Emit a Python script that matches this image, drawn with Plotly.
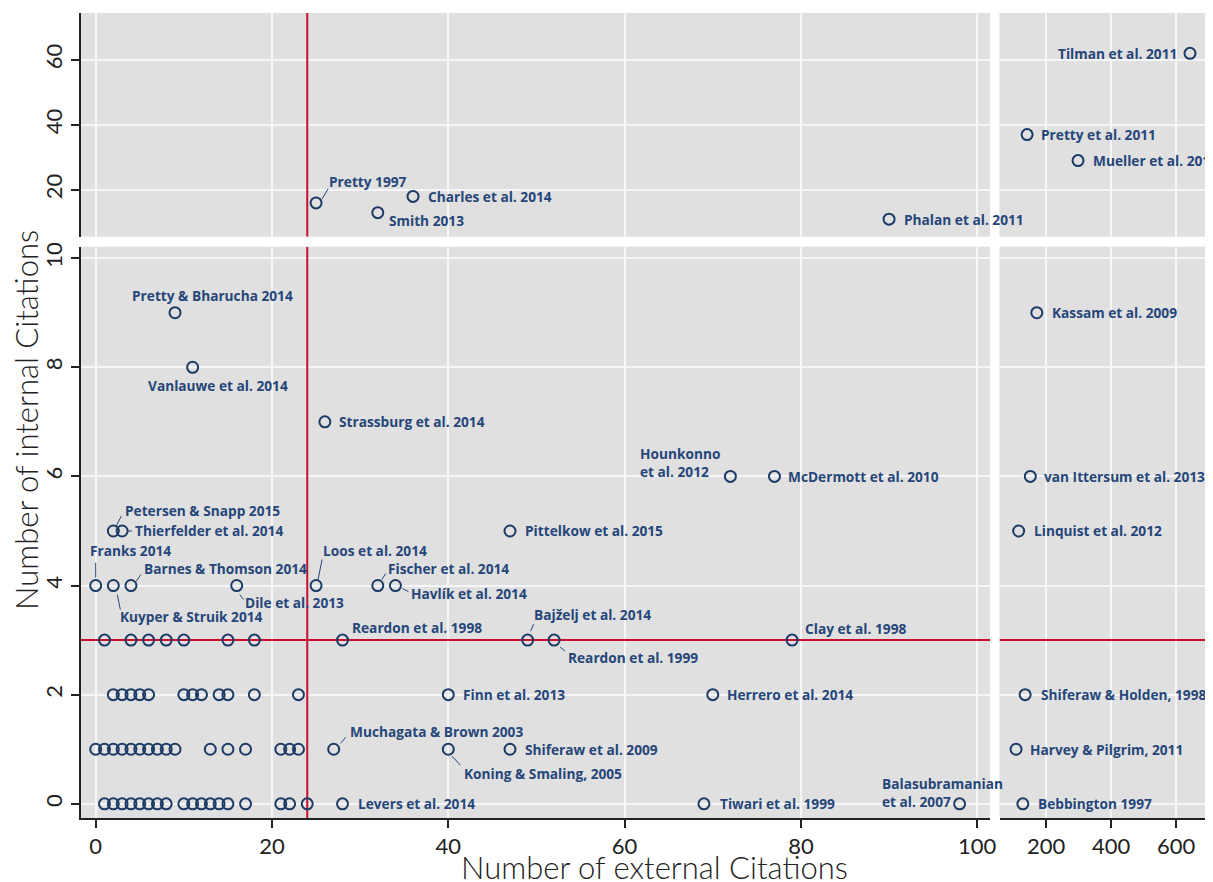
import plotly.graph_objects as go

# ---------------- data ----------------
# unlabeled studies (lower-left panel), external citations grouped by internal citations
row0_ext = [1, 2, 3, 4, 5, 6, 7, 8, 10, 11, 12, 13, 14, 15, 17, 21, 22, 24]
row1_ext = [0, 1, 2, 3, 4, 5, 6, 7, 8, 9, 13, 15, 17, 21, 22, 23]
row2_ext = [2, 3, 4, 5, 6, 10, 11, 12, 14, 15, 18, 23]
row3_ext = [1, 4, 6, 8, 10, 15, 18]

# labeled studies
studies = [
    "Pretty & Bharucha 2014", "Vanlauwe et al. 2014", "Strassburg et al. 2014",
    "Hounkonno<br>et al. 2012", "McDermott et al. 2010", "Petersen & Snapp 2015",
    "Thierfelder et al. 2014", "Pittelkow et al. 2015", "Franks 2014",
    "Kuyper & Struik 2014", "Barnes & Thomson 2014", "Dile et al. 2013",
    "Loos et al. 2014", "Fischer et al. 2014", "Havlík et al. 2014",
    "Reardon et al. 1998", "Bajželj et al. 2014", "Reardon et al. 1999",
    "Clay et al. 1998", "Finn et al. 2013", "Herrero et al. 2014",
    "Muchagata & Brown 2003", "Koning & Smaling, 2005", "Shiferaw et al. 2009",
    "Levers et al. 2014", "Tiwari et al. 1999", "Balasubramanian<br>et al. 2007",
    "Kassam et al. 2009", "van Ittersum et al. 2013", "Linquist et al. 2012",
    "Shiferaw & Holden, 1998", "Harvey & Pilgrim, 2011", "Bebbington 1997",
    "Pretty 1997", "Smith 2013", "Charles et al. 2014", "Phalan et al. 2011",
    "Tilman et al. 2011", "Pretty et al. 2011", "Mueller et al. 2012",
]
external = [
    9, 11, 26, 72, 77, 2, 3, 47, 0, 2, 4, 16, 25, 32, 34, 28, 49, 52, 79, 40, 70,
    27, 40, 47, 28, 69, 98, 171, 151, 115, 135, 107, 128, 25, 32, 36, 90, 643, 141, 298,
]
internal = [
    9, 8, 7, 6, 6, 5, 5, 5, 4, 4, 4, 4, 4, 4, 4, 3, 3, 3, 3, 2, 2,
    1, 1, 1, 0, 0, 0, 9, 6, 5, 2, 1, 0, 16, 13, 18, 11, 62, 37, 29,
]

x_break = 100          # axis break on external citations
y_break = 10           # axis break on internal citations
ref_external = 24      # red reference lines
ref_internal = 3

left_ticks = [0, 20, 40, 60, 80, 100]
right_ticks = [200, 400, 600]
bottom_ticks = [0, 2, 4, 6, 8, 10]
top_ticks = [20, 40, 60]

# ---------------- label placement (pixel offsets, style only) ----------------
# name: (xshift, yshift, xanchor, leader line (x0, y0, x1, y1) or None)
place = {
    "Pretty & Bharucha 2014": (37, 17, "center", None),
    "Vanlauwe et al. 2014": (25, -18, "center", None),
    "Strassburg et al. 2014": (12, 0, "left", None),
    "Hounkonno<br>et al. 2012": (-8, 14, "right", None),
    "McDermott et al. 2010": (12, 0, "left", None),
    "Petersen & Snapp 2015": (10, 20, "left", (3, 5, 8, 15)),
    "Thierfelder et al. 2014": (11, 0, "left", (6, 0, 10, 0)),
    "Pittelkow et al. 2015": (13, 0, "left", None),
    "Franks 2014": (-8, 35, "left", (0, 8, 0, 23)),
    "Kuyper & Struik 2014": (5, -31, "left", (4, -9, 7, -24)),
    "Barnes & Thomson 2014": (11, 17, "left", (5, 4, 10, 11)),
    "Dile et al. 2013": (6, -17, "left", (3, -9, 7, -14)),
    "Loos et al. 2014": (5, 35, "left", (2, 6, 6, 26)),
    "Fischer et al. 2014": (8, 17, "left", (4, 6, 8, 12)),
    "Havlík et al. 2014": (14, -8, "left", (7, -3, 13, -6)),
    "Reardon et al. 1998": (7, 13, "left", None),
    "Bajželj et al. 2014": (4, 26, "left", (3, 9, 6, 16)),
    "Reardon et al. 1999": (12, -17, "left", (6, -7, 11, -11)),
    "Clay et al. 1998": (11, 12, "left", None),
    "Finn et al. 2013": (13, 0, "left", None),
    "Herrero et al. 2014": (12, 0, "left", None),
    "Muchagata & Brown 2003": (14, 18, "left", (7, 6, 12, 12)),
    "Koning & Smaling, 2005": (14, -24, "left", (4, -7, 12, -16)),
    "Shiferaw et al. 2009": (13, 0, "left", None),
    "Levers et al. 2014": (13, 0, "left", None),
    "Tiwari et al. 1999": (14, 0, "left", None),
    "Balasubramanian<br>et al. 2007": (-80, 11, "left", None),
    "Kassam et al. 2009": (13, 0, "left", None),
    "van Ittersum et al. 2013": (12, 0, "left", None),
    "Linquist et al. 2012": (13, 0, "left", None),
    "Shiferaw & Holden, 1998": (14, 0, "left", None),
    "Harvey & Pilgrim, 2011": (12, 0, "left", None),
    "Bebbington 1997": (13, 0, "left", None),
    "Pretty 1997": (11, 21, "left", (6, 4, 12, 14)),
    "Smith 2013": (9, -8, "left", None),
    "Charles et al. 2014": (13, 0, "left", None),
    "Phalan et al. 2011": (13, 0, "left", None),
    "Tilman et al. 2011": (-11, 0, "right", None),
    "Pretty et al. 2011": (12, 0, "left", None),
    "Mueller et al. 2012": (13, 0, "left", None),
}

# ---------------- styling ----------------
NAVY = "#1c3a66"
LABEL_C = "#26467a"
RED = "#c8102e"
BG = "#e0e0e0"
AXC = "#222222"
LABEL_FONT = dict(family="Open Sans", size=13.7, color=LABEL_C, weight="bold")
TICK_FONT = dict(family="Lato", size=22, color="#222222")
TITLE_FONT = dict(family="Lato", size=31, color="#222222", weight=300)

OFF = 8                                  # page body margin
W, H = 1213 - OFF, 882 - OFF
ML, MR, MT, MB = 72, 0, 5, 56
PW, PH = W - ML - MR, H - MT - MB


def fx(px):
    return (px - OFF - ML) / PW


def fy(py):
    return (H - MB - (py - OFF)) / PH


def dom_x(a, b):
    return [max(0, fx(a)), min(1, fx(b))]


def dom_y(top, bot):
    return [max(0, fy(bot)), min(1, fy(top))]


def panel(xv, yv):
    right = xv > x_break
    top = yv > y_break
    if not right and not top:
        return "x", "y"
    if right and not top:
        return "x2", "y2"
    if not right and top:
        return "x3", "y3"
    return "x4", "y4"


LX = dom_x(80.7, 990)
RX = dom_x(999.5, OFF + W)
BY = dom_y(246.7, 818)
TY = dom_y(13, 236.7)
XL_RANGE = [-1.7, 101.45]
XR_RANGE = [56, 200 + (OFF + W - 1046) / 0.325]
YB_RANGE = [-0.26, 10.21]
YT_RANGE = [5.6, 74.4]

fig = go.Figure()

# reference lines (drawn first so markers sit on top)
red = dict(color=RED, width=2)
fig.add_trace(go.Scatter(x=[ref_external, ref_external], y=YB_RANGE, mode="lines", line=red,
                         xaxis="x", yaxis="y", hoverinfo="skip", showlegend=False))
fig.add_trace(go.Scatter(x=[ref_external, ref_external], y=YT_RANGE, mode="lines", line=red,
                         xaxis="x3", yaxis="y3", hoverinfo="skip", showlegend=False))
fig.add_trace(go.Scatter(x=XL_RANGE, y=[ref_internal, ref_internal], mode="lines", line=red,
                         xaxis="x", yaxis="y", hoverinfo="skip", showlegend=False))
fig.add_trace(go.Scatter(x=XR_RANGE, y=[ref_internal, ref_internal], mode="lines", line=red,
                         xaxis="x2", yaxis="y2", hoverinfo="skip", showlegend=False))

marker = dict(symbol="circle-open", size=11, color=NAVY, line=dict(width=2, color=NAVY))

# unlabeled
ux = row0_ext + row1_ext + row2_ext + row3_ext
uy = [0] * len(row0_ext) + [1] * len(row1_ext) + [2] * len(row2_ext) + [3] * len(row3_ext)
fig.add_trace(go.Scatter(x=ux, y=uy, mode="markers", marker=marker, xaxis="x", yaxis="y",
                         showlegend=False, cliponaxis=False))

# labeled, grouped per panel
groups = {}
for name, xv, yv in zip(studies, external, internal):
    groups.setdefault(panel(xv, yv), []).append((name, xv, yv))

for (xa, ya), items in groups.items():
    fig.add_trace(go.Scatter(x=[i[1] for i in items], y=[i[2] for i in items], mode="markers",
                             marker=marker, xaxis=xa, yaxis=ya, showlegend=False,
                             cliponaxis=False))
    for name, xv, yv in items:
        xs, ys, xanc, lead = place[name]
        fig.add_annotation(x=xv, y=yv, xref=xa, yref=ya, text=name, showarrow=False,
                           xshift=xs, yshift=ys, xanchor=xanc, yanchor="middle",
                           align="left", font=LABEL_FONT)
        if lead:
            fig.add_shape(type="line", xref=xa, yref=ya, xsizemode="pixel",
                          ysizemode="pixel", xanchor=xv, yanchor=yv,
                          x0=lead[0], y0=lead[1], x1=lead[2], y1=lead[3],
                          line=dict(color=LABEL_C, width=1))

grid = dict(showgrid=True, gridcolor="#f4f6f8", gridwidth=2, zeroline=False, automargin=False)
axline = dict(showline=True, linecolor=AXC, linewidth=2, ticks="outside", ticklen=8,
              tickwidth=1.5, tickcolor=AXC, tickfont=TICK_FONT)
noline = dict(showline=False, ticks="", showticklabels=False)

fig.update_layout(
    width=W, height=H, autosize=False,
    margin=dict(l=ML, r=MR, t=MT, b=MB, autoexpand=False),
    paper_bgcolor="white", plot_bgcolor=BG,
    showlegend=False,
    xaxis=dict(domain=LX, range=XL_RANGE, anchor="y", tickvals=left_ticks, **grid, **axline),
    yaxis=dict(domain=BY, range=YB_RANGE, anchor="x", tickvals=bottom_ticks, tickangle=-90,
               **grid, **axline),
    xaxis2=dict(domain=RX, range=XR_RANGE, anchor="y2", tickvals=right_ticks, **grid, **axline),
    yaxis2=dict(domain=BY, range=YB_RANGE, anchor="x2", tickvals=bottom_ticks, **grid, **noline),
    xaxis3=dict(domain=LX, range=XL_RANGE, anchor="y3", tickvals=left_ticks, **grid, **noline),
    yaxis3=dict(domain=TY, range=YT_RANGE, anchor="x3", tickvals=top_ticks, tickangle=-90,
                **grid, **axline),
    xaxis4=dict(domain=RX, range=XR_RANGE, anchor="y4", tickvals=right_ticks, **grid, **noline),
    yaxis4=dict(domain=TY, range=YT_RANGE, anchor="x4", tickvals=top_ticks, **grid, **noline),
)

# axis titles
fig.add_annotation(xref="paper", yref="paper", x=fx(654), y=fy(867),
                   text="Number of external Citations", showarrow=False, font=TITLE_FONT,
                   xanchor="center", yanchor="middle")
fig.add_annotation(xref="paper", yref="paper", x=fx(26), y=fy(420),
                   text="Number of internal Citations", showarrow=False, textangle=-90,
                   font=TITLE_FONT, xanchor="center", yanchor="middle")

fig.write_html("out.html")
